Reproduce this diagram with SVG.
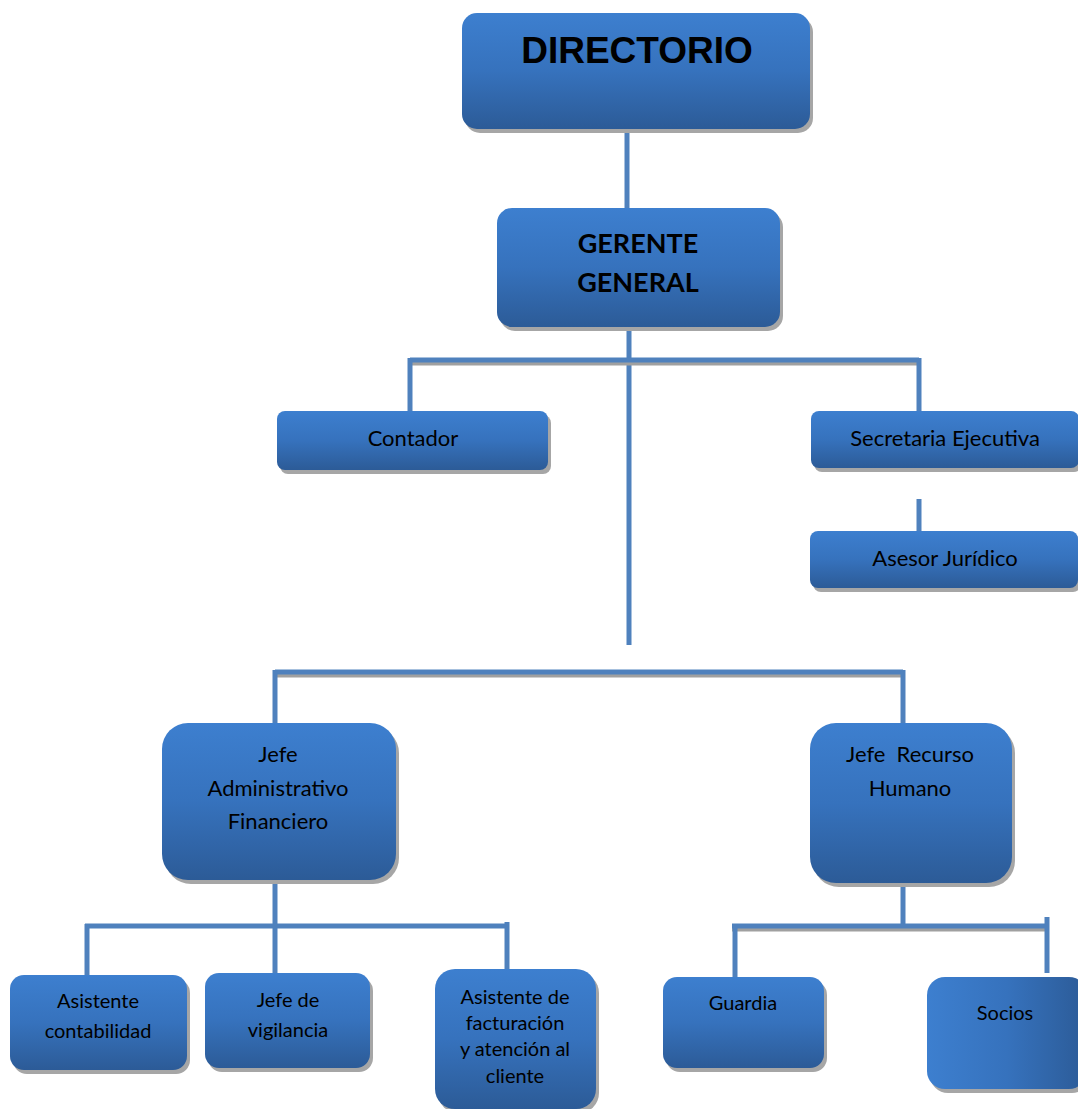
<svg xmlns="http://www.w3.org/2000/svg" width="1078" height="1109" viewBox="0 0 1078 1109">
<style>
.box{fill:url(#gv);}
.boxh{fill:url(#gh);}
.sh{fill:#a6a6a6;}
.ln{stroke:#4f81bd;stroke-width:5;fill:none;}
.lsh{stroke:#a0a0a0;stroke-width:5;fill:none;}
.t{font-family:Lato,"Liberation Sans",sans-serif;fill:#000;text-anchor:middle;}
.tb{font-family:"Liberation Sans",Arial,sans-serif;font-weight:bold;fill:#000;text-anchor:middle;}
</style>
<defs>
<linearGradient id="gv" x1="0" y1="0" x2="0" y2="1">
<stop offset="0" stop-color="#3d7fcf"/>
<stop offset="0.5" stop-color="#3672bd"/>
<stop offset="1" stop-color="#2c5b97"/>
</linearGradient>
<linearGradient id="gh" x1="0" y1="0" x2="1" y2="0">
<stop offset="0" stop-color="#3d7fcf"/>
<stop offset="0.5" stop-color="#3672bd"/>
<stop offset="1" stop-color="#2c5b97"/>
</linearGradient>
</defs>
<g id="connectors">
<line class="ln" x1="627" y1="128" x2="627" y2="212"/>
<line class="ln" x1="629" y1="327" x2="629" y2="645"/>
<line class="lsh" x1="410" y1="363" x2="920" y2="363"/>
<line class="ln" x1="410" y1="360" x2="919" y2="360"/>
<line class="ln" x1="410" y1="358" x2="410" y2="414"/>
<line class="ln" x1="919" y1="358" x2="919" y2="414"/>
<line class="ln" x1="919" y1="499" x2="919" y2="534"/>
<line class="lsh" x1="275" y1="675" x2="905" y2="675"/>
<line class="ln" x1="275" y1="672" x2="903" y2="672"/>
<line class="ln" x1="275" y1="670" x2="275" y2="725"/>
<line class="ln" x1="903" y1="670" x2="903" y2="725"/>
<line class="ln" x1="275" y1="880" x2="275" y2="975"/>
<line class="ln" x1="85" y1="926" x2="508" y2="926"/>
<line class="ln" x1="87" y1="924" x2="87" y2="978"/>
<line class="ln" x1="507" y1="922" x2="507" y2="972"/>
<line class="ln" x1="903" y1="883" x2="903" y2="929"/>
<line class="lsh" x1="732" y1="929" x2="1047" y2="929"/>
<line class="ln" x1="732" y1="926" x2="1047" y2="926"/>
<line class="ln" x1="735" y1="924" x2="735" y2="980"/>
<line class="ln" x1="1047" y1="917" x2="1047" y2="973"/>
</g>
<g id="directorio">
<rect class="sh" x="465" y="17" width="348" height="116" rx="15"/>
<rect class="box" x="462" y="13" width="348" height="116" rx="15"/>
<text class="tb" x="637" y="63" font-size="37">DIRECTORIO</text>
</g>
<g id="gerente">
<rect class="sh" x="500" y="212" width="283" height="119" rx="15"/>
<rect class="box" x="497" y="208" width="283" height="119" rx="15"/>
<text class="t" x="638" y="253" font-size="27" font-weight="bold">GERENTE</text>
<text class="t" x="638" y="292" font-size="27" font-weight="bold">GENERAL</text>
</g>
<g id="contador">
<rect class="sh" x="280" y="415" width="271" height="59" rx="8"/>
<rect class="box" x="277" y="411" width="271" height="59" rx="8"/>
<text class="t" x="413" y="446" font-size="22">Contador</text>
</g>
<g id="secretaria">
<rect class="sh" x="814" y="415" width="268" height="57" rx="8"/>
<rect class="box" x="811" y="411" width="268" height="57" rx="8"/>
<text class="t" x="945" y="446" font-size="22">Secretaria Ejecutiva</text>
</g>
<g id="asesor">
<rect class="sh" x="813" y="535" width="268" height="57" rx="8"/>
<rect class="box" x="810" y="531" width="268" height="57" rx="8"/>
<text class="t" x="945" y="566" font-size="22">Asesor Jurídico</text>
</g>
<g id="jefe-admin">
<rect class="sh" x="165" y="727" width="234" height="157" rx="26"/>
<rect class="box" x="162" y="723" width="234" height="157" rx="26"/>
<text class="t" x="278" y="762" font-size="22">Jefe</text>
<text class="t" x="278" y="796" font-size="22">Administrativo</text>
<text class="t" x="278" y="829" font-size="22">Financiero</text>
</g>
<g id="jefe-rrhh">
<rect class="sh" x="813" y="727" width="202" height="160" rx="26"/>
<rect class="box" x="810" y="723" width="202" height="160" rx="26"/>
<text class="t" x="910" y="762" font-size="22" xml:space="preserve">Jefe  Recurso</text>
<text class="t" x="910" y="796" font-size="22">Humano</text>
</g>
<g id="asistente-contabilidad">
<rect class="sh" x="13" y="979" width="177" height="95" rx="14"/>
<rect class="box" x="10" y="975" width="177" height="95" rx="14"/>
<text class="t" x="98" y="1008" font-size="20">Asistente</text>
<text class="t" x="98" y="1038" font-size="20">contabilidad</text>
</g>
<g id="jefe-vigilancia">
<rect class="sh" x="208" y="977" width="165" height="95" rx="14"/>
<rect class="box" x="205" y="973" width="165" height="95" rx="14"/>
<text class="t" x="288" y="1007" font-size="20">Jefe de</text>
<text class="t" x="288" y="1037" font-size="20">vigilancia</text>
</g>
<g id="asistente-facturacion">
<rect class="sh" x="438" y="973" width="161" height="140" rx="20"/>
<rect class="box" x="435" y="969" width="161" height="140" rx="20"/>
<text class="t" x="515" y="1004" font-size="20">Asistente de</text>
<text class="t" x="515" y="1030" font-size="20">facturación</text>
<text class="t" x="515" y="1056" font-size="20">y atención al</text>
<text class="t" x="515" y="1083" font-size="20">cliente</text>
</g>
<g id="guardia">
<rect class="sh" x="666" y="981" width="161" height="91" rx="14"/>
<rect class="box" x="663" y="977" width="161" height="91" rx="14"/>
<text class="t" x="743" y="1010" font-size="20">Guardia</text>
</g>
<g id="socios">
<rect class="sh" x="930" y="981" width="160" height="112" rx="18"/>
<rect class="boxh" x="927" y="977" width="160" height="112" rx="18"/>
<text class="t" x="1005" y="1020" font-size="20">Socios</text>
</g>
</svg>
